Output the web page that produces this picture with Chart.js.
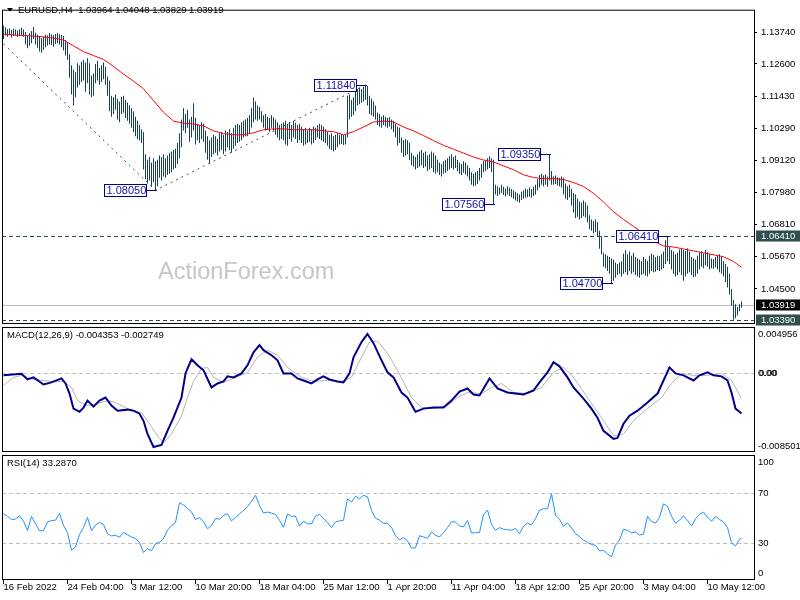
<!DOCTYPE html>
<html>
<head>
<meta charset="utf-8">
<title>EURUSD H4</title>
<script src="https://cdn.jsdelivr.net/npm/chart.js@4.4.1/dist/chart.umd.min.js"></script>
<style>
  html, body { margin: 0; padding: 0; background: #fff; }
  #box { position: relative; width: 800px; height: 600px; overflow: hidden; }
  #box canvas { position: absolute; left: 0; top: 0; }
</style>
</head>
<body>
<div id="box">
  <canvas id="price" width="800" height="600"></canvas>
  <canvas id="macd" width="800" height="600"></canvas>
  <canvas id="rsi" width="800" height="600"></canvas>
</div>
<script>
// ---- values ----
// one entry per 4h bar, 16 Feb 2022 20:00 .. 12 May 2022
const barHigh = [
  1.1398,1.1392,1.1385,1.1388,1.1382,1.1386,1.1384,1.1380,1.1385,1.1390,
  1.1384,1.1375,1.1362,1.1370,1.1378,1.1393,1.1372,1.1365,1.1360,1.1352,
  1.1358,1.1365,1.1362,1.1370,1.1366,1.1363,1.1368,1.1372,1.1367,1.1365,
  1.1360,1.1345,1.1338,1.1295,1.1255,1.1240,1.1230,1.1262,1.1255,1.1268,
  1.1275,1.1265,1.1280,1.1262,1.1218,1.1225,1.1260,1.1270,1.1245,1.1255,
  1.1265,1.1250,1.1215,1.1200,1.1145,1.1140,1.1150,1.1135,1.1125,1.1142,
  1.1145,1.1130,1.1120,1.1110,1.1100,1.1090,1.1070,1.1055,1.1040,1.1025,
  1.1015,1.0935,1.0915,1.0925,1.0905,1.0920,1.0910,1.0915,1.0930,1.0925,
  1.0935,1.0920,1.0930,1.0940,1.0945,1.0950,1.0955,1.0975,1.1010,1.1060,
  1.1100,1.1080,1.1095,1.1060,1.1070,1.1118,1.1065,1.1045,1.1040,1.1050,
  1.1045,1.1020,1.1000,1.0985,1.0995,1.1005,1.1000,1.0990,1.1010,1.1015,
  1.1005,1.1020,1.1015,1.1025,1.1010,1.1030,1.1040,1.1045,1.1040,1.1050,
  1.1055,1.1060,1.1065,1.1075,1.1100,1.1139,1.1125,1.1110,1.1105,1.1090,
  1.1075,1.1080,1.1070,1.1065,1.1075,1.1068,1.1060,1.1050,1.1040,1.1045,
  1.1050,1.1055,1.1045,1.1050,1.1040,1.1055,1.1048,1.1040,1.1045,1.1035,
  1.1025,1.1030,1.1020,1.1030,1.1025,1.1035,1.1030,1.1040,1.1045,1.1040,
  1.1035,1.1025,1.1015,1.1005,1.1010,1.1000,1.1005,1.1010,1.1005,1.1008,
  1.1004,1.1006,1.1145,1.1150,1.1130,1.1140,1.1160,1.1170,1.1175,1.1170,
  1.1178,1.1184,1.1180,1.1145,1.1135,1.1125,1.1110,1.1085,1.1080,1.1070,
  1.1075,1.1070,1.1065,1.1068,1.1060,1.1055,1.1045,1.1035,1.1030,1.0995,
  1.0985,1.0990,1.0985,1.0975,1.0940,1.0930,1.0925,1.0935,1.0945,1.0950,
  1.0940,1.0945,1.0930,1.0935,1.0945,1.0940,1.0930,1.0915,1.0905,1.0900,
  1.0910,1.0915,1.0920,1.0928,1.0935,1.0925,1.0930,1.0915,1.0905,1.0900,
  1.0910,1.0905,1.0895,1.0885,1.0870,1.0865,1.0870,1.0875,1.0885,1.0900,
  1.0910,1.0915,1.0920,1.0928,1.0920,1.0915,1.0825,1.0820,1.0815,1.0825,
  1.0818,1.0812,1.0820,1.0815,1.0810,1.0805,1.0800,1.0795,1.0790,1.0800,
  1.0805,1.0812,1.0808,1.0815,1.0810,1.0818,1.0825,1.0845,1.0860,1.0865,
  1.0858,1.0862,1.0855,1.0935,1.0875,1.0855,1.0858,1.0852,1.0850,1.0855,
  1.0850,1.0830,1.0820,1.0825,1.0810,1.0795,1.0790,1.0775,1.0765,1.0760,
  1.0768,1.0762,1.0750,1.0715,1.0700,1.0695,1.0700,1.0690,1.0660,1.0640,
  1.0580,1.0575,1.0570,1.0565,1.0560,1.0555,1.0545,1.0540,1.0545,1.0550,
  1.0578,1.0590,1.0575,1.0585,1.0570,1.0580,1.0565,1.0560,1.0555,1.0550,
  1.0565,1.0558,1.0552,1.0570,1.0578,1.0572,1.0565,1.0570,1.0568,1.0575,
  1.0585,1.0625,1.0641,1.0600,1.0590,1.0585,1.0575,1.0580,1.0592,1.0595,
  1.0590,1.0588,1.0596,1.0585,1.0565,1.0560,1.0555,1.0570,1.0580,1.0585,
  1.0578,1.0590,1.0582,1.0575,1.0560,1.0558,1.0565,1.0570,1.0575,1.0565,
  1.0550,1.0540,1.0530,1.0505,1.0450,1.0410,1.0395,1.0385,1.0395,1.04048
];
const barLow = [
  1.1350,1.1362,1.1358,1.1364,1.1355,1.1360,1.1362,1.1357,1.1360,1.1365,
  1.1358,1.1330,1.1316,1.1325,1.1334,1.1350,1.1330,1.1318,1.1305,1.1300,
  1.1310,1.1320,1.1326,1.1330,1.1328,1.1322,1.1332,1.1335,1.1330,1.1320,
  1.1308,1.1290,1.1275,1.1210,1.1150,1.1110,1.1140,1.1175,1.1185,1.1195,
  1.1200,1.1160,1.1190,1.1150,1.1140,1.1145,1.1190,1.1200,1.1185,1.1195,
  1.1205,1.1185,1.1145,1.1090,1.1070,1.1080,1.1095,1.1060,1.1050,1.1080,
  1.1085,1.1065,1.1055,1.1045,1.1030,1.1015,1.1000,1.0990,1.0985,1.0975,
  1.0880,1.0845,1.0830,1.0840,1.0820,1.0835,1.0805,1.0820,1.0850,1.0840,
  1.0855,1.0850,1.0860,1.0865,1.0870,1.0880,1.0885,1.0900,1.0920,1.0960,
  1.1020,1.1010,1.1030,1.0980,1.0995,1.1020,1.0970,1.0985,1.0975,1.0990,
  1.0980,1.0940,1.0915,1.0900,1.0925,1.0935,1.0940,1.0930,1.0945,1.0950,
  1.0935,1.0945,1.0960,1.0950,1.0940,1.0955,1.0965,1.0975,1.0980,1.0985,
  1.0995,1.1000,1.1000,1.1010,1.1030,1.1050,1.1060,1.1055,1.1060,1.1050,
  1.1030,1.1020,1.1025,1.1015,1.1030,1.1020,1.1005,1.0995,1.0985,1.0990,
  1.0985,1.0970,1.0965,1.0990,1.0980,1.0995,1.0990,1.0975,1.0985,1.0975,
  1.0965,1.0970,1.0975,1.0980,1.0970,1.0975,1.0985,1.0995,1.0990,1.0985,
  1.0980,1.0975,1.0965,1.0955,1.0950,1.0945,1.0950,1.0960,1.0970,1.0972,
  1.0968,1.0970,1.0995,1.1060,1.1070,1.1075,1.1090,1.1110,1.1115,1.1120,
  1.1125,1.1130,1.1110,1.1080,1.1075,1.1070,1.1060,1.1040,1.1035,1.1030,
  1.1040,1.1035,1.1030,1.1035,1.1025,1.1015,1.0995,1.0965,1.0975,1.0940,
  1.0925,1.0930,1.0935,1.0915,1.0895,1.0890,1.0880,1.0885,1.0890,1.0895,
  1.0885,1.0890,1.0875,1.0880,1.0885,1.0870,1.0865,1.0870,1.0860,1.0855,
  1.0865,1.0868,1.0875,1.0880,1.0885,1.0880,1.0885,1.0875,1.0865,1.0860,
  1.0868,1.0862,1.0855,1.0840,1.0825,1.0820,1.0822,1.0828,1.0840,1.0850,
  1.0870,1.0875,1.0880,1.0885,1.0870,1.0756,1.0790,1.0785,1.0790,1.0795,
  1.0788,1.0784,1.0790,1.0785,1.0780,1.0775,1.0768,1.0765,1.0760,1.0770,
  1.0775,1.0778,1.0780,1.0782,1.0778,1.0785,1.0790,1.0805,1.0815,1.0825,
  1.0820,1.0825,1.0818,1.0840,1.0825,1.0825,1.0828,1.0822,1.0820,1.0815,
  1.0790,1.0775,1.0770,1.0780,1.0750,1.0725,1.0705,1.0710,1.0700,1.0705,
  1.0712,1.0708,1.0690,1.0665,1.0660,1.0650,1.0655,1.0640,1.0595,1.0575,
  1.0530,1.0525,1.0515,1.0505,1.0470,1.0480,1.0490,1.0500,1.0505,1.0495,
  1.0505,1.0510,1.0500,1.0515,1.0505,1.0510,1.0500,1.0495,1.0490,1.0500,
  1.0505,1.0498,1.0495,1.0505,1.0515,1.0510,1.0512,1.0518,1.0515,1.0520,
  1.0525,1.0540,1.0550,1.0540,1.0520,1.0505,1.0495,1.0500,1.0510,1.0500,
  1.0480,1.0495,1.0505,1.0510,1.0500,1.0492,1.0495,1.0505,1.0520,1.0530,
  1.0525,1.0535,1.0530,1.0520,1.0525,1.0522,1.0528,1.0520,1.0510,1.0505,
  1.0495,1.0475,1.0455,1.0430,1.0390,1.0339,1.0345,1.0355,1.0370,1.03829
];
const lastOpen = 1.03964;
const lastClose = 1.03919;

// red moving average, one value every 5th bar (last one on the final bar)
const maStep = 5;
const maValues = [
  1.1367,1.1364,1.1362,1.1360,1.1357,1.1353,1.1346,1.1325,1.1304,1.1290,
  1.1276,1.1251,1.1223,1.1198,1.1170,1.1128,1.1086,1.1054,1.1047,1.1044,
  1.1037,1.1019,1.1009,1.1005,1.1005,1.1012,1.1023,1.1026,1.1026,1.1023,
  1.1023,1.1023,1.1019,1.1016,1.1005,1.1016,1.1033,1.1051,1.1054,1.1051,
  1.1033,1.1019,1.1002,1.0984,1.0967,1.0953,1.0939,1.0925,1.0914,1.0907,
  1.0893,1.0879,1.0861,1.0851,1.0847,1.0847,1.0844,1.0833,1.0819,1.0794,
  1.0763,1.0728,1.0700,1.0675,1.0651,1.0622,1.0605,1.0601,1.0594,1.0587,
  1.0580,1.0573,1.0566,1.0549,1.0528
];

// MACD(12,26,9)
const macdBars = [
  0,9,12,15,20,24,29,31,33,35,38,40,42,45,48,51,54,57,62,65,
  68,70,72,75,79,82,85,89,91,94,97,100,104,107,110,112,115,119,122,125,
  128,130,134,137,140,144,147,150,154,157,160,163,167,170,173,175,179,182,185,189,
  192,195,199,202,206,210,215,220,224,228,232,235,238,243,247,252,256,260,265,268,
  272,275,278,282,285,290,294,297,300,305,307,310,313,317,322,327,330,333,336,340,
  345,348,352,355,359,362,364,366,369
];
const macdMain = [
  -0.00025,-0.00007,-0.00069,-0.00047,-0.00123,-0.00101,-0.00058,-0.00112,-0.00221,-0.00383,
  -0.00416,-0.00372,-0.00297,-0.00362,-0.00297,-0.00264,-0.00351,-0.00405,-0.00394,-0.00405,
  -0.00438,-0.00514,-0.00655,-0.00796,-0.00774,-0.00622,-0.00481,-0.00264,-0.00004,0.00148,
  0.00083,0.00029,-0.00155,-0.00112,-0.00090,-0.00036,-0.00047,-0.00004,0.00083,0.00224,
  0.00300,0.00246,0.00192,0.00137,-0.00004,-0.00004,-0.00058,-0.00080,-0.00112,-0.00069,
  -0.00036,-0.00069,-0.00090,-0.00101,-0.00004,0.00170,0.00333,0.00420,0.00322,0.00137,
  0.00007,-0.00047,-0.00210,-0.00264,-0.00416,-0.00383,-0.00372,-0.00372,-0.00297,-0.00199,
  -0.00166,-0.00231,-0.00242,-0.00058,-0.00166,-0.00210,-0.00221,-0.00231,-0.00188,-0.00101,
  0.00007,0.00116,0.00072,-0.00047,-0.00155,-0.00275,-0.00383,-0.00481,-0.00622,-0.00709,
  -0.00698,-0.00546,-0.00459,-0.00405,-0.00318,-0.00221,-0.00080,0.00061,-0.00004,-0.00025,
  -0.00080,-0.00025,0.00007,-0.00025,-0.00036,-0.00080,-0.00210,-0.00383,-0.004353
];
const signalBars = [
  0,5,9,15,24,30,34,37,42,47,52,56,62,69,72,77,80,84,89,92,
  95,99,102,105,110,115,122,127,132,137,142,149,155,162,169,174,179,183,187,192,
  197,204,209,215,222,227,232,239,244,249,255,262,269,275,280,285,292,299,305,310,
  315,322,329,334,339,345,352,359,364,369
];
const macdSignal = [
  -0.00134,-0.00047,-0.00025,-0.00069,-0.00090,-0.00090,-0.00155,-0.00297,-0.00351,-0.00329,
  -0.00297,-0.00318,-0.00383,-0.00427,-0.00514,-0.00676,-0.00752,-0.00655,-0.00460,-0.00260,
  -0.00090,0.00050,0.00060,-0.00047,-0.00101,-0.00058,0.00007,0.00170,0.00246,0.00192,
  0.00061,-0.00047,-0.00090,-0.00080,-0.00090,-0.00047,0.00170,0.00333,0.00344,0.00213,
  0.00029,-0.00264,-0.00372,-0.00383,-0.00351,-0.00264,-0.00210,-0.00221,-0.00155,-0.00112,
  -0.00210,-0.00221,-0.00155,0.00007,0.00061,-0.00047,-0.00264,-0.00481,-0.00676,-0.00655,
  -0.00514,-0.00383,-0.00264,-0.00112,-0.00004,-0.00025,-0.00025,-0.00004,-0.00080,-0.002749
];
const macdMin = -0.008501;
const macdMax = 0.004956;

// RSI(14), one value every 2nd bar (last one on the final bar)
const rsiStep = 2;
const rsiValues = [
  53.1,51,48.3,48.8,51.5,47,39.5,50.8,45.1,39.3,
  39.5,46.5,47.6,47.8,53.4,43.5,38,23.8,26.5,36.5,
  42,50,39.5,44,46,44.5,37,35.3,35.8,34.3,
  38,36.3,34.4,33.2,30,22,25,23.5,29,30.3,
  33,40,43.5,46,62,60,57.2,54.5,48.5,49.8,
  46.8,41,43.5,49.2,48.7,51.6,53,47.3,50,52.8,
  55.6,58.7,63,67.8,59.6,53.6,54.4,53.5,52.5,47.7,
  42.2,52.8,50.9,51.1,43,47,45,44.9,51.1,52.6,
  49.3,45.9,42,46.4,47.3,47.8,65,62.3,67,65,
  67.8,66.5,55.7,49.4,47.9,45.3,45.5,42,35.5,32.2,
  34,31.3,25.5,25.8,35.4,34.5,33.3,38.6,35.8,34.5,
  37.7,42,46.6,46.4,43.2,42.6,47.6,37.7,37.8,38,
  52.3,56,44.5,39.8,41.9,40.6,40.3,39.8,41.2,37.1,
  43,45.6,44,49.1,55.8,57,56.9,69,51.8,48.6,
  43,45.6,41.7,37,34.7,31.9,30.1,28.4,27.8,23.3,
  23.7,21,18.5,27.8,32,40.6,39.8,37.7,38.5,36,
  36.6,51,46.8,45.5,50.2,61,59,51,45.4,47.8,
  51.4,47.5,43.2,49,52.4,54.3,50.2,46.9,50.8,48.5,
  46.4,42,29.8,27.3,32.6,33.287
];
const rsiLevels = [70, 30];

// axis text
const priceTicks = [1.13740, 1.12600, 1.11430, 1.10290, 1.09120, 1.07980, 1.06810, 1.05670, 1.04500];
const priceMin = 1.0324;
const priceMax = 1.1455;
const timeLabelStep = 32;
const timeLabels = ['16 Feb 2022', '24 Feb 04:00', '3 Mar 12:00', '10 Mar 20:00', '18 Mar 04:00',
  '25 Mar 12:00', '1 Apr 20:00', '11 Apr 04:00', '18 Apr 12:00', '25 Apr 20:00', '3 May 04:00', '10 May 12:00'];

// swing labels and drawn objects
const calloutBars = [76, 181, 245, 273, 304, 332];
const calloutPrices = [1.0805, 1.1184, 1.0756, 1.0935, 1.0470, 1.0641];
const trendBars = [0, 76, 181];
const trendPrices = [1.1332, 1.0805, 1.1184];
const dashedLevels = [1.0641, 1.0339];

// ---- drawing ----
const FONT = '"Liberation Sans", Arial, sans-serif';
Chart.defaults.font.family = FONT;
Chart.defaults.font.size = 9.5;
Chart.defaults.color = '#000';

const lastBar = barHigh.length - 1;
const xMin = -0.75, xMax = xMin + 376;   // 2px per bar

function stepped(values, step) {
  return values.map((v, k) => ({ x: k === values.length - 1 ? lastBar : k * step, y: v }));
}

function hline(ctx, a, y) {
  ctx.beginPath();
  ctx.moveTo(a.left, y);
  ctx.lineTo(a.right, y);
  ctx.stroke();
}

function frame(ctx, a) {
  ctx.strokeStyle = '#000';
  ctx.lineWidth = 1;
  ctx.setLineDash([]);
  ctx.strokeRect(a.left + 0.5, a.top + 0.5, a.width, a.height - 1);
}

const hiddenX = { type: 'linear', min: xMin, max: xMax, offset: false, display: false };

function quietY(min, max) {
  return {
    position: 'right', min, max,
    afterFit: s => { s.width = 46; },
    ticks: { display: false },
    grid: { display: false },
    border: { display: false }
  };
}

const baseOptions = {
  responsive: false,
  animation: false,
  devicePixelRatio: 1,
  events: [],
  plugins: { legend: { display: false }, tooltip: { enabled: false } }
};

const priceDecor = {
  id: 'priceDecor',
  beforeDatasetsDraw(chart) {
    const { ctx, chartArea: a, scales: { y } } = chart;
    ctx.save();
    ctx.fillStyle = '#c6c6c6';
    ctx.font = '23.5px ' + FONT;
    ctx.fillText('ActionForex.com', 158, 279);
    ctx.lineWidth = 1;
    ctx.strokeStyle = '#c0c0c0';
    hline(ctx, a, Math.round(y.getPixelForValue(lastClose)) + 0.5);
    ctx.strokeStyle = '#2f4f4f';
    ctx.setLineDash([4, 3]);
    dashedLevels.forEach(v => hline(ctx, a, Math.round(y.getPixelForValue(v)) + 0.5));
    ctx.restore();
  },
  afterDatasetsDraw(chart) {
    const { ctx, scales: { x, y } } = chart;
    ctx.save();
    ctx.font = '11px ' + FONT;
    ctx.textBaseline = 'middle';
    ctx.lineWidth = 1;
    calloutBars.forEach((b, k) => {
      const px = Math.round(x.getPixelForValue(b));
      const py = Math.round(y.getPixelForValue(calloutPrices[k]));
      const w = 43, h = 13, right = px - 9;
      ctx.fillStyle = '#fff';
      ctx.fillRect(right - w, py - 6, w, h);
      ctx.strokeStyle = '#000080';
      ctx.strokeRect(right - w + 0.5, py - 5.5, w - 1, h - 1);
      ctx.beginPath();
      ctx.moveTo(right, py + 0.5);
      ctx.lineTo(px + 1, py + 0.5);
      ctx.stroke();
      ctx.fillStyle = '#1414a8';
      ctx.fillText(calloutPrices[k].toFixed(5), right - w + 2.5, py + 1);
    });
    ctx.restore();
  },
  afterDraw(chart) {
    const { ctx, chartArea: a, scales: { y } } = chart;
    ctx.save();
    frame(ctx, a);
    // symbol header
    ctx.fillStyle = '#000';
    ctx.beginPath();
    ctx.moveTo(7, 8); ctx.lineTo(13, 8); ctx.lineTo(10, 11.5); ctx.closePath();
    ctx.fill();
    ctx.font = '9.5px ' + FONT;
    ctx.textBaseline = 'middle';
    const head = [lastOpen, barHigh[lastBar], barLow[lastBar], lastClose].map(v => v.toFixed(5)).join(' ');
    ctx.fillText('EURUSD,H4  ' + head, 18, 10.5);
    // highlighted prices on the axis
    [[1.0641, '#2f4f4f'], [lastClose, '#000'], [1.0339, '#2f4f4f']].forEach(([v, bg]) => {
      const py = Math.round(y.getPixelForValue(v));
      ctx.fillStyle = bg;
      ctx.fillRect(a.right + 2, py - 5.5, 46, 11);
      ctx.fillStyle = '#fff';
      ctx.fillText(v.toFixed(5), a.right + 7, py + 0.5);
    });
    ctx.restore();
  }
};

function paneDecor(id, title, axisLabels, levels) {
  return {
    id,
    beforeDatasetsDraw(chart) {
      const { ctx, chartArea: a, scales: { y } } = chart;
      ctx.save();
      ctx.strokeStyle = '#c0c0c0';
      ctx.lineWidth = 1;
      ctx.setLineDash([4, 3]);
      levels.forEach(v => hline(ctx, a, Math.round(y.getPixelForValue(v)) + 0.5));
      ctx.restore();
    },
    afterDraw(chart) {
      const { ctx, chartArea: a, scales: { y } } = chart;
      ctx.save();
      frame(ctx, a);
      ctx.fillStyle = '#000';
      ctx.font = '9.5px ' + FONT;
      ctx.textBaseline = 'middle';
      ctx.fillText(title, a.left + 5, a.top + 8.5);
      axisLabels.forEach(([v, text, shift, bold]) => {
        const ty = Math.round(y.getPixelForValue(v)) + shift + 0.5;
        ctx.fillText(text, a.right + 4, ty);
        if (bold) ctx.fillText(text, a.right + 5, ty);
      });
      ctx.restore();
    }
  };
}

// price pane
new Chart(document.getElementById('price'), {
  type: 'bar',
  data: {
    datasets: [
      {
        type: 'line', order: 0,
        data: trendBars.map((b, k) => ({ x: b, y: trendPrices[k] })),
        borderColor: '#2f4f4f', borderWidth: 1, borderDash: [2, 4], pointRadius: 0
      },
      {
        type: 'line', order: 1,
        data: stepped(maValues, maStep),
        borderColor: '#ff0000', borderWidth: 1, pointRadius: 0
      },
      {
        type: 'bar', order: 2,
        data: barHigh.map((h, i) => ({ x: i, y: [barLow[i], h] })),
        backgroundColor: '#15405e', borderWidth: 0, barThickness: 1, inflateAmount: 0, grouped: false
      }
    ]
  },
  options: {
    ...baseOptions,
    layout: { padding: { left: 2, right: 0, top: 2, bottom: 276 } },
    scales: {
      x: hiddenX,
      y: {
        position: 'right', min: priceMin, max: priceMax,
        afterFit: s => { s.width = 46; },
        afterBuildTicks: s => { s.ticks = priceTicks.map(v => ({ value: v })); },
        ticks: { padding: 4, callback: v => v.toFixed(5) },
        grid: { drawOnChartArea: false, tickLength: 3, color: '#000' },
        border: { display: false }
      }
    }
  },
  plugins: [priceDecor]
});

// MACD pane
new Chart(document.getElementById('macd'), {
  type: 'line',
  data: {
    datasets: [
      {
        order: 0,
        data: macdBars.map((b, k) => ({ x: b, y: macdMain[k] })),
        borderColor: '#00008b', borderWidth: 2, pointRadius: 0
      },
      {
        order: 1,
        data: signalBars.map((b, k) => ({ x: b, y: macdSignal[k] })),
        borderColor: '#b4b4b4', borderWidth: 1, pointRadius: 0
      }
    ]
  },
  options: {
    ...baseOptions,
    layout: { padding: { left: 2, right: 0, top: 327, bottom: 148 } },
    scales: { x: hiddenX, y: quietY(macdMin, macdMax) }
  },
  plugins: [paneDecor('macdDecor',
    'MACD(12,26,9) ' + macdMain[macdMain.length - 1].toFixed(6) + ' ' + macdSignal[macdSignal.length - 1].toFixed(6),
    [[macdMax, macdMax.toFixed(6), 7], [0, '0.00', 0, true], [macdMin, macdMin.toFixed(6), -6]],
    [0])]
});

// RSI pane with the time axis
new Chart(document.getElementById('rsi'), {
  type: 'line',
  data: {
    datasets: [{
      data: stepped(rsiValues, rsiStep),
      borderColor: '#1e90ff', borderWidth: 1, pointRadius: 0
    }]
  },
  options: {
    ...baseOptions,
    layout: { padding: { left: 2, right: 0, top: 455, bottom: 0 } },
    scales: {
      x: {
        type: 'linear', min: xMin, max: xMax, position: 'bottom',
        afterFit: s => { s.height = 20; },
        afterBuildTicks: s => { s.ticks = timeLabels.map((t, k) => ({ value: k * timeLabelStep })); },
        ticks: { autoSkip: false, maxRotation: 0, align: 'start', padding: -2, callback: (v, k) => timeLabels[k] },
        grid: { drawOnChartArea: false, tickLength: 4, color: '#000' },
        border: { display: false }
      },
      y: quietY(0, 100)
    }
  },
  plugins: [paneDecor('rsiDecor',
    'RSI(14) ' + rsiValues[rsiValues.length - 1].toFixed(4),
    [[100, '100', 7], [70, '70', 0], [30, '30', 0], [0, '0', -7]],
    rsiLevels)]
});
</script>
</body>
</html>
